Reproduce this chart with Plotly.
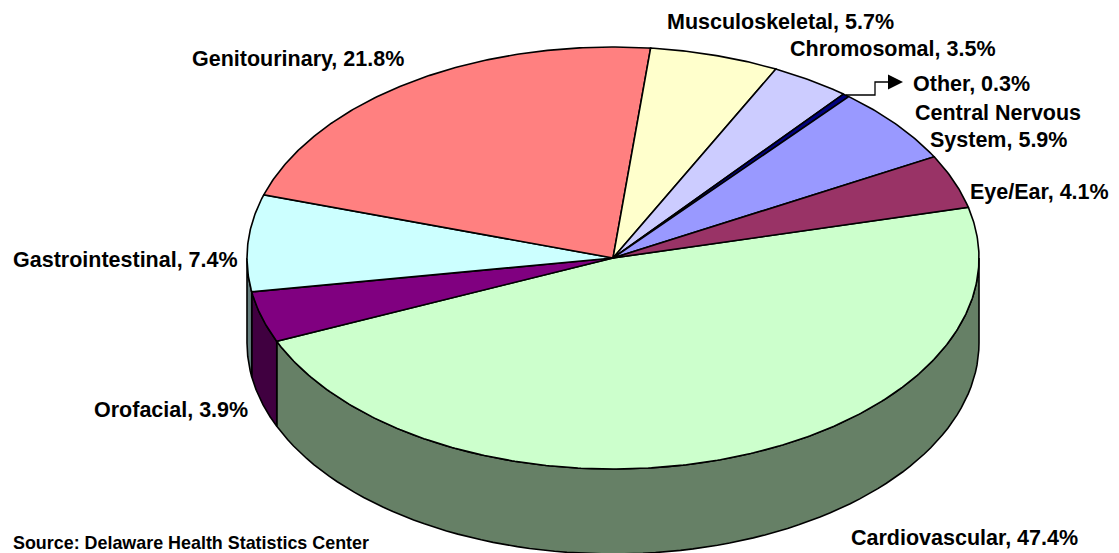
import numpy as np
import plotly.graph_objects as go

# Clockwise from the Cardiovascular slice
categories = ["Cardiovascular", "Orofacial", "Gastrointestinal", "Genitourinary",
              "Musculoskeletal", "Chromosomal", "Other", "Central Nervous System", "Eye/Ear"]
values = [47.4, 3.9, 7.4, 21.8, 5.7, 3.5, 0.3, 5.9, 4.1]
top_colors = ["#CCFFCC", "#800080", "#CCFFFF", "#FF8080", "#FFFFCC",
              "#CCCCFF", "#000080", "#9999FF", "#993366"]
side_colors = ["#668066", "#400040", "#668080", "#804040", "#808066",
               "#666680", "#000040", "#4D4D80", "#4D1A33"]
label_text = ["Cardiovascular, 47.4%", "Orofacial, 3.9%", "Gastrointestinal, 7.4%",
              "Genitourinary, 21.8%", "Musculoskeletal, 5.7%", "Chromosomal, 3.5%",
              "Other, 0.3%", "Central Nervous", "System, 5.9%", "Eye/Ear, 4.1%"]
label_x = [964, 171, 125, 298, 780, 893, 971, 998, 998, 1039]
label_y = [538, 410, 260, 59, 22, 49, 84, 113, 140, 192]
source = "Source: Delaware Health Statistics Center"

CX, CY, RX, RY, DEPTH = 613, 258, 366, 211, 85
START_DEG = 13.9
LINE = dict(color="black", width=1.6)

def pt(deg, dy=0):
    r = np.radians(deg)
    return CX + RX * np.cos(r), CY - RY * np.sin(r) + dy

fig = go.Figure()
def poly(xs, ys, color):
    fig.add_trace(go.Scatter(x=list(xs), y=list(ys), mode="lines", fill="toself",
                             fillcolor=color, line=LINE, hoverinfo="skip", showlegend=False))

spans = np.array(values) / sum(values) * 360
ends = START_DEG - np.cumsum(spans)
starts = ends + spans

# side walls: visible part of the rim is the lower half of the ellipse (180..360 math deg)
for a0, a1, col in zip(starts, ends, side_colors):
    for k in (0, -360):
        hi, lo = a0 + k, a1 + k          # clockwise from hi to lo
        hi2, lo2 = min(hi, -0.0), max(lo, -180.0)
        if hi2 > lo2:
            t = np.linspace(hi2, lo2, 80)
            xt, yt = pt(t)
            xb, yb = pt(t[::-1], DEPTH)
            poly(np.r_[xt, xb, xt[0]], np.r_[yt, yb, yt[0]], col)

# top faces
for a0, a1, col in zip(starts, ends, top_colors):
    t = np.linspace(a0, a1, max(int(abs(a0 - a1) * 2), 4))
    xa, ya = pt(t)
    poly(np.r_[CX, xa, CX], np.r_[CY, ya, CY], col)

# leader line for the "Other" label
fig.add_trace(go.Scatter(x=[846, 875, 875, 893], y=[95, 95, 82, 82], mode="lines",
                         line=dict(color="black", width=1.3), hoverinfo="skip", showlegend=False))
fig.add_annotation(x=903, y=82, ax=890, ay=82, xref="x", yref="y", axref="x", ayref="y",
                   text="", showarrow=True, arrowhead=2, arrowsize=2.0, arrowwidth=1.5, arrowcolor="black")

FONT = dict(family="Liberation Sans, Arial, sans-serif", size=21.5, color="black", weight="bold")
for txt, x, y in zip(label_text, label_x, label_y):
    fig.add_annotation(x=x, y=y, xref="x", yref="y", text=txt, showarrow=False,
                       font=FONT, xanchor="center", yanchor="middle", align="center")
fig.add_annotation(x=11, y=542.5, xref="x", yref="y", text=source, showarrow=False,
                   font=dict(FONT, size=17.9), xanchor="left", yanchor="middle")

fig.update_layout(width=1119, height=553, margin=dict(l=0, r=0, t=0, b=0),
                  paper_bgcolor="white", plot_bgcolor="white", showlegend=False,
                  xaxis=dict(range=[0, 1119], visible=False, fixedrange=True),
                  yaxis=dict(range=[553, 0], visible=False, fixedrange=True))
fig.write_html("out.html", config=dict(displayModeBar=False),
               post_script="document.body.style.margin='0';document.documentElement.style.overflow='hidden';")
